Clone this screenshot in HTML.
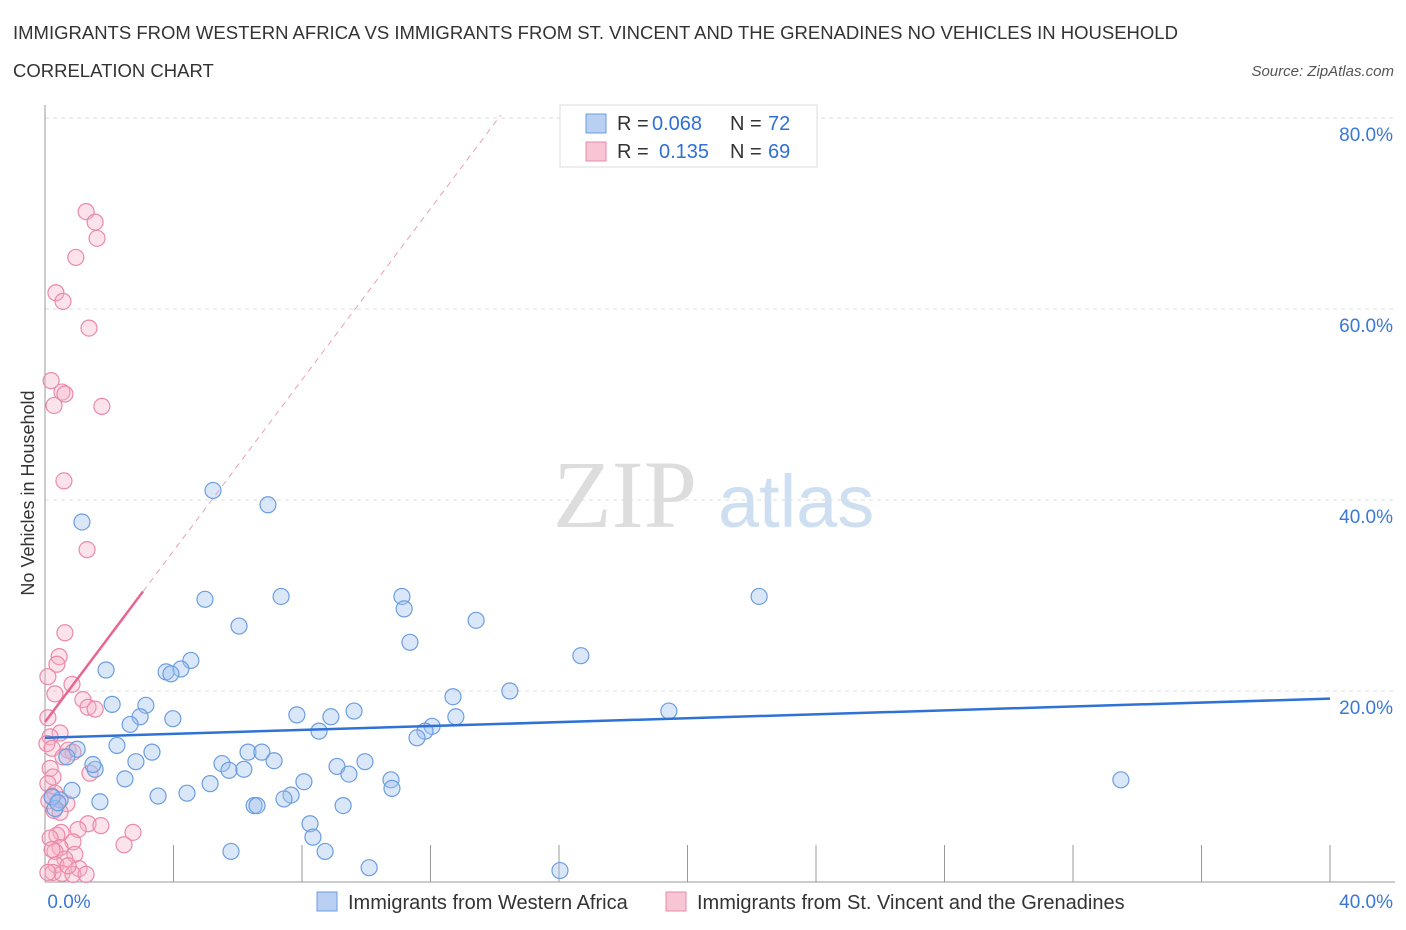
<!DOCTYPE html>
<html><head><meta charset="utf-8"><style>
body{margin:0;background:#fff;font-family:"Liberation Sans",sans-serif;}
svg{display:block}
</style></head><body>
<svg id="chart" width="1406" height="930" xmlns="http://www.w3.org/2000/svg">
<text x="13" y="39" font-size="18.5" fill="#333">IMMIGRANTS FROM WESTERN AFRICA VS IMMIGRANTS FROM ST. VINCENT AND THE GRENADINES NO VEHICLES IN HOUSEHOLD</text>
<text x="13" y="77" font-size="18.5" fill="#333">CORRELATION CHART</text>
<text x="1394" y="76" font-size="15" fill="#555" font-style="italic" text-anchor="end">Source: ZipAtlas.com</text>
<text x="553" y="527" font-size="96" fill="#ddd" font-family="Liberation Serif,serif">ZIP</text>
<text x="718" y="527" font-size="74" fill="#cfdff2">atlas</text>
<text transform="translate(34,493) rotate(-90)" font-size="18" fill="#333" text-anchor="middle">No Vehicles in Household</text>
<g id="grid"></g><g id="axes"></g><g id="marks"></g>
<g>
<rect x="560" y="105" width="257" height="62" fill="#fff" stroke="#ddd"/>
<rect x="586" y="114" width="20" height="19" fill="#b9d0f3" stroke="#6d9de0"/>
<rect x="586" y="142" width="20" height="19" fill="#f8c5d5" stroke="#e98aa8"/>
<text y="130" font-size="20" fill="#333"><tspan x="617">R =</tspan><tspan x="652" fill="#2f6fd6">0.068</tspan><tspan x="730">N =</tspan><tspan x="768" fill="#2f6fd6">72</tspan></text>
<text y="158" font-size="20" fill="#333"><tspan x="617">R =</tspan><tspan x="659" fill="#2f6fd6">0.135</tspan><tspan x="730">N =</tspan><tspan x="768" fill="#2f6fd6">69</tspan></text>
</g>
<g>
<rect x="317" y="892" width="20" height="19" fill="#b9d0f3" stroke="#6d9de0"/>
<text x="348" y="909" font-size="20" fill="#333">Immigrants from Western Africa</text>
<rect x="666" y="892" width="20" height="19" fill="#f8c5d5" stroke="#e98aa8"/>
<text x="697" y="909" font-size="20" fill="#333">Immigrants from St. Vincent and the Grenadines</text>
</g>
</svg>
<script>
const yTicks=[20,40,60,80];
const yTickLabels=["20.0%","40.0%","60.0%","80.0%"];
const xTickLabels=["0.0%","40.0%"];
const blueX=[1.15,5.23,6.94,4.98,7.35,11.11,11.18,13.42,22.23,6.04,11.36,16.68,1.90,4.54,4.23,3.77,3.92,14.47,12.70,2.09,3.14,2.96,2.65,3.98,7.84,8.90,9.62,12.79,19.42,8.53,12.05,11.83,11.58,2.24,3.33,1.00,0.68,2.83,1.56,1.49,6.32,6.75,7.13,5.51,5.73,6.19,9.09,9.46,9.96,2.49,5.14,10.77,10.80,8.06,7.66,7.44,3.52,4.42,9.28,6.51,6.60,1.71,0.84,0.47,0.31,0.22,8.25,8.34,8.72,5.79,10.09,16.03,33.49,0.40];
const blueY=[37.7,41.0,39.5,29.6,29.9,29.9,28.6,27.4,29.9,26.8,25.1,23.7,22.2,23.2,22.3,22.0,21.8,20.0,19.4,18.6,18.5,17.3,16.5,17.1,17.5,17.3,17.9,17.3,17.9,15.8,16.3,15.8,15.1,14.3,13.6,13.9,13.1,12.6,11.8,12.3,13.6,13.6,12.7,12.4,11.7,11.8,12.1,11.3,12.6,10.8,10.3,10.7,9.8,10.5,9.1,8.7,9.0,9.3,8.0,8.0,8.0,8.4,9.6,8.6,7.7,8.9,6.1,4.7,3.2,3.2,1.5,1.2,10.7,8.3];
const pinkX=[1.28,1.56,1.62,0.96,0.34,0.56,1.37,0.19,0.53,0.62,0.28,1.77,0.59,1.31,0.62,0.44,0.37,0.09,0.84,0.31,1.18,1.34,1.56,0.09,0.47,0.16,0.06,0.22,0.72,0.87,0.56,0.16,1.40,0.25,0.09,0.31,0.22,0.12,0.68,0.28,0.47,1.34,1.74,1.03,2.74,0.50,0.37,0.16,0.87,0.47,0.31,0.93,2.46,0.62,0.34,1.06,0.25,0.53,0.09,0.87,1.28,0.72,0.22];
const pinkY=[70.2,69.1,67.4,65.4,61.7,60.8,58.0,52.5,51.3,51.1,49.9,49.8,42.0,34.8,26.1,23.6,22.8,21.5,20.7,19.7,19.1,18.3,18.1,17.2,15.6,15.2,14.5,14.0,13.8,13.6,13.1,11.9,11.4,11.0,10.3,9.3,9.0,8.5,8.2,7.5,7.3,6.1,5.9,5.5,5.2,5.2,4.9,4.6,4.2,3.6,3.2,2.9,3.9,2.4,1.8,1.4,1.0,0.9,1.0,0.8,0.8,1.7,3.4];
const blueTrend=[15.1,19.2];
const pinkTrend=[16.75,4.48];
const NS="http://www.w3.org/2000/svg";
const xs=v=>45+v*32.125, ys=v=>882-v*9.55;
function mk(p,tag,a){const e=document.createElementNS(NS,tag);for(const k in a)e.setAttribute(k,a[k]);p.appendChild(e);return e;}
const grid=document.getElementById('grid'),axes=document.getElementById('axes'),marks=document.getElementById('marks');
yTicks.forEach((t,i)=>{
 const l=mk(grid,'line',{x1:45,x2:1395,y1:ys(t),y2:ys(t),stroke:'#ddd','stroke-dasharray':'4,4'});
 
 
 const tx=mk(grid,'text',{x:1393,y:ys(t)+23,'font-size':19,fill:'#3a78d8','text-anchor':'end'});
 tx.textContent=yTickLabels[i];
 
 
});
const ax=mk(axes,'line',{x1:45,x2:45,y1:105,y2:882,stroke:'#999'});


const bx=mk(axes,'line',{x1:45,x2:1395,y1:882,y2:882,stroke:'#999'});


for(let i=1;i<=10;i++){const t=mk(axes,'line',{x1:xs(i*4),x2:xs(i*4),y1:845,y2:882,stroke:'#999'});
 
 }
const xl0=mk(axes,'text',{x:69,y:908,'font-size':19,fill:'#3a78d8','text-anchor':'middle'});xl0.textContent=xTickLabels[0];


const xl1=mk(axes,'text',{x:1393,y:908,'font-size':19,fill:'#3a78d8','text-anchor':'end'});xl1.textContent=xTickLabels[1];


pinkX.forEach((x,i)=>{const c=mk(marks,'circle',{cx:xs(x),cy:ys(pinkY[i]),r:8,fill:'rgba(245,175,198,0.35)',stroke:'#e98aa8','stroke-width':1.2});
 
 });
blueX.forEach((x,i)=>{const c=mk(marks,'circle',{cx:xs(x),cy:ys(blueY[i]),r:8,fill:'rgba(160,194,240,0.4)',stroke:'#6d9de0','stroke-width':1.2});
 
 });
const bt=mk(marks,'line',{x1:xs(0),y1:ys(blueTrend[0]),x2:xs(40),y2:ys(blueTrend[1]),stroke:'#2f72d6','stroke-width':2.5});


const xEndP=(80.3-pinkTrend[0])/pinkTrend[1];
const pd=mk(marks,'line',{x1:xs(3.05),y1:ys(pinkTrend[0]+pinkTrend[1]*3.05),x2:xs(xEndP),y2:ys(80.3),stroke:'#e8a0b8','stroke-width':1,'stroke-dasharray':'6,5'});


const ps=mk(marks,'line',{x1:xs(0),y1:ys(pinkTrend[0]),x2:xs(3.05),y2:ys(pinkTrend[0]+pinkTrend[1]*3.05),stroke:'#e8668f','stroke-width':2.5});


</script>
</body></html>
